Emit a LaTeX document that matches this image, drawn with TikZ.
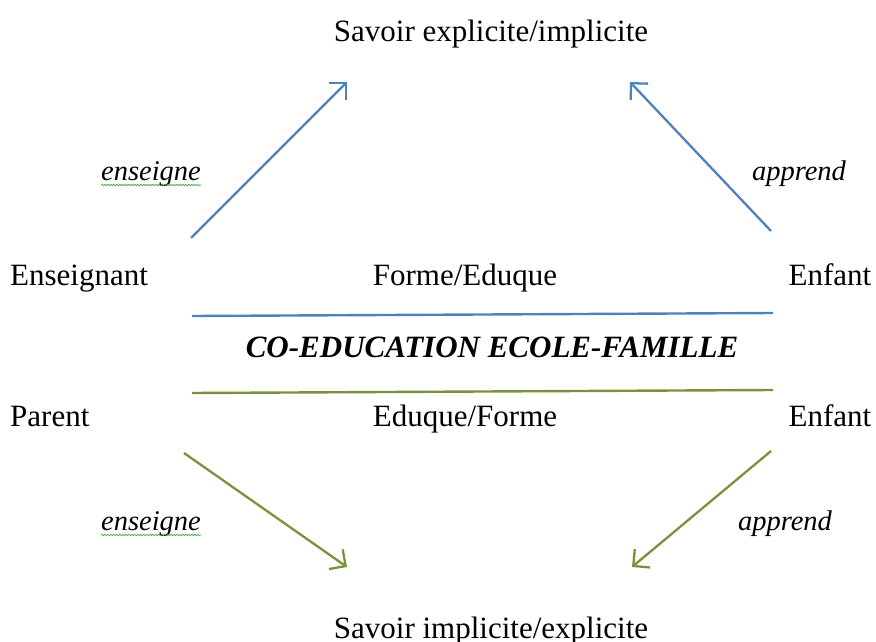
\documentclass[tikz,border=0pt]{standalone}
\usepackage{fontspec}
\setmainfont{Liberation Serif}
\usetikzlibrary{arrows.meta,decorations.pathmorphing}
\definecolor{wblue}{HTML}{4F81BD}
\definecolor{wgreen}{HTML}{77933C}
\definecolor{spell}{HTML}{3CB043}
\begin{document}
\begin{tikzpicture}[x=1pt,y=-1pt,
  lbl/.style={inner sep=0pt,anchor=base,font=\fontsize{31}{36}\selectfont},
  verb/.style={inner sep=0pt,anchor=base,font=\fontsize{28.5}{34}\selectfont\itshape},
  barrow/.style={draw=wblue,line width=2.3pt,-{Straight Barb[length=12pt,width=24pt,line width=2.3pt]}},
  garrow/.style={draw=wgreen,line width=2.3pt,-{Straight Barb[length=12pt,width=24pt,line width=2.3pt]}},
  bline/.style={draw=wblue,line width=2.4pt},
  gline/.style={draw=wgreen,line width=2.4pt},
  squig/.style={draw=spell,line width=0.6pt,decorate,decoration={snake,amplitude=0.8pt,segment length=3pt}}]
\useasboundingbox (0,0) rectangle (876,642);
% texts
\node[lbl] (savtop) at (491,42) {Savoir explicite/implicite};
\node[lbl,anchor=base west] (ens) at (10,285) {Enseignant};
\node[lbl] (forme) at (465,285) {Forme/Eduque};
\node[lbl] (enf1) at (830,285) {Enfant};
\node[lbl,font=\fontsize{31}{36}\selectfont\bfseries\itshape] (coedu) at (492,357) {CO-EDUCATION ECOLE-FAMILLE};
\node[lbl,anchor=base west] (par) at (10,426) {Parent};
\node[lbl] (eduque) at (465,426) {Eduque/Forme};
\node[lbl] (enf2) at (830,426) {Enfant};
\node[lbl] (savbot) at (491,638) {Savoir implicite/explicite};
\node[verb] (ens1) at (151,180) {enseigne};
\node[verb] (app1) at (799,180) {apprend};
\node[verb] (ens2) at (151,530) {enseigne};
\node[verb] (app2) at (785,530) {apprend};
% spelling marks
\draw[squig] ([yshift=-5pt]ens1.base west) -- ([yshift=-5pt]ens1.base east);
\draw[squig] ([yshift=-5pt]ens2.base west) -- ([yshift=-5pt]ens2.base east);
% coordinates
\coordinate (a1s) at (191,238); \coordinate (a1e) at (347,82);
\coordinate (a2s) at (771,231); \coordinate (a2e) at (630,82);
\coordinate (a3s) at (184,453); \coordinate (a3e) at (347,567);
\coordinate (a4s) at (771,451); \coordinate (a4e) at (632,567);
\coordinate (l1s) at (192,316); \coordinate (l1e) at (773,313);
\coordinate (l2s) at (192,393); \coordinate (l2e) at (773,390);
% arrows and lines
\draw[barrow] (a1s) -- (a1e);
\draw[barrow] (a2s) -- (a2e);
\draw[garrow] (a3s) -- (a3e);
\draw[garrow] (a4s) -- (a4e);
\draw[bline] (l1s) -- (l1e);
\draw[gline] (l2s) -- (l2e);
\end{tikzpicture}
\end{document}
